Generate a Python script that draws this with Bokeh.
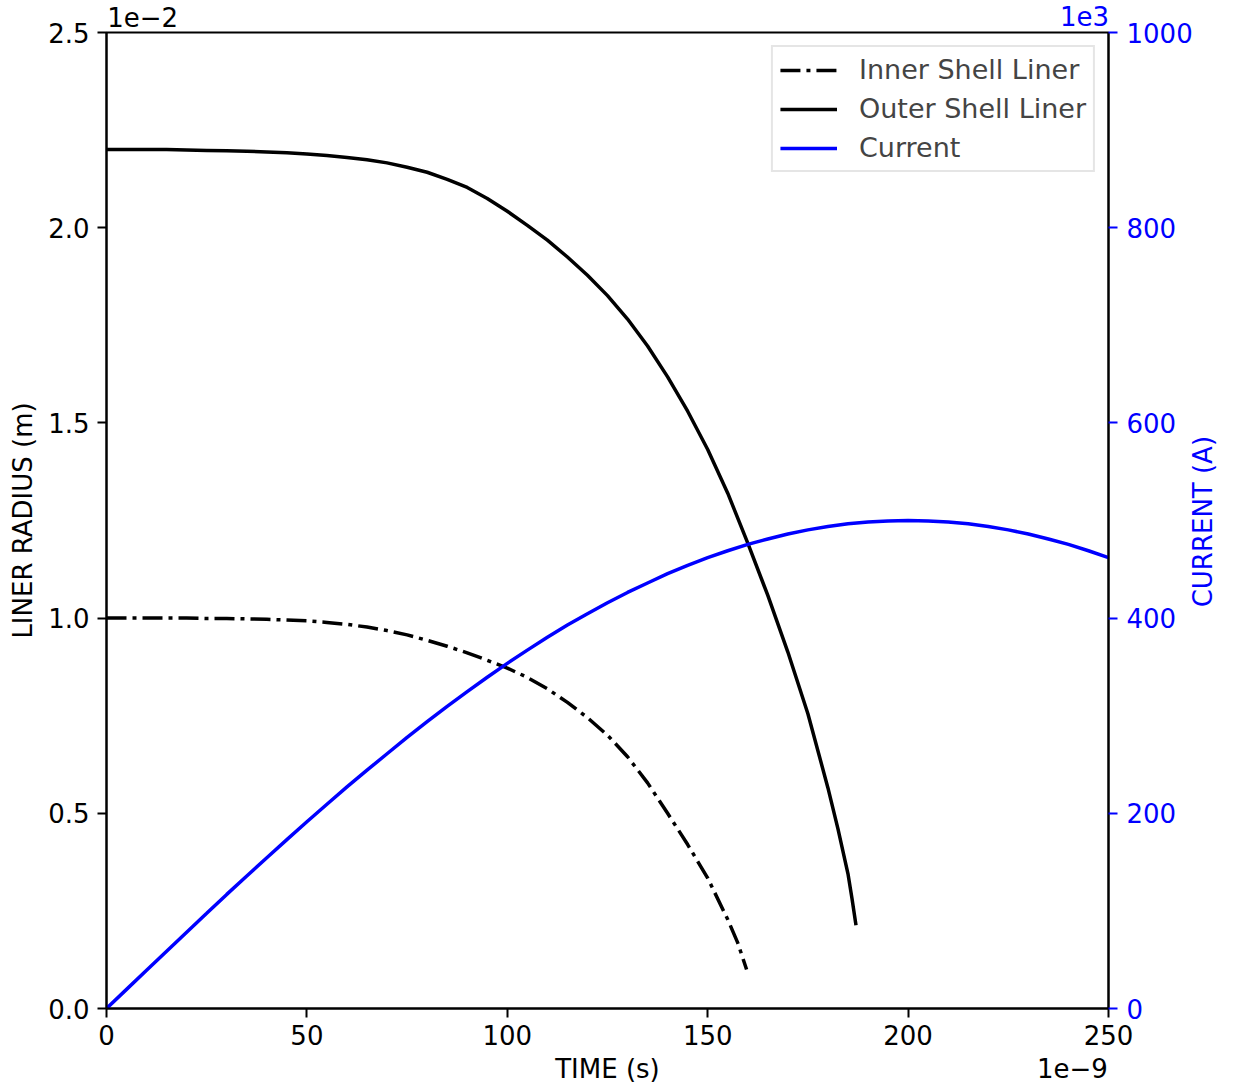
import math

from bokeh.plotting import figure
from bokeh.models import Range1d, LinearAxis, FixedTicker, PrintfTickFormatter
from bokeh.embed import file_html
from bokeh.resources import INLINE

# Liner radius (units of 1e-2 m) versus time (units of 1e-9 s)
time_inner = [0, 5, 10, 15, 20, 25, 30, 35, 40, 45, 50, 55, 60, 65, 70, 75, 80,
              85, 90, 95, 100, 105, 110, 115, 120, 125, 130, 135, 140, 145, 150,
              155, 157.5, 159.7]
radius_inner = [1.000, 1.000, 1.000, 1.000, 1.000, 0.999, 0.999, 0.998, 0.997,
                0.995, 0.993, 0.989, 0.984, 0.977, 0.968, 0.957, 0.943, 0.928,
                0.911, 0.892, 0.872, 0.848, 0.819, 0.784, 0.745, 0.700, 0.645,
                0.578, 0.500, 0.420, 0.334, 0.228, 0.168, 0.100]

time_outer = [0, 5, 10, 15, 20, 25, 30, 35, 40, 45, 50, 55, 60, 65, 70, 75, 80,
              85, 90, 95, 100, 105, 110, 115, 120, 125, 130, 135, 140, 145, 150,
              155, 160, 165, 170, 175, 180, 182.5, 185, 186, 187]
radius_outer = [2.200, 2.200, 2.200, 2.200, 2.199, 2.198, 2.197, 2.196, 2.194,
                2.192, 2.189, 2.185, 2.180, 2.174, 2.166, 2.155, 2.142, 2.124,
                2.103, 2.075, 2.042, 2.006, 1.968, 1.925, 1.878, 1.826, 1.766,
                1.697, 1.618, 1.530, 1.432, 1.320, 1.192, 1.058, 0.913, 0.755,
                0.565, 0.460, 0.345, 0.282, 0.213]

# Drive current (units of 1e3 A)
time_current = [0, 5, 10, 15, 20, 25, 30, 35, 40, 45, 50, 55, 60, 65, 70, 75,
                80, 85, 90, 95, 100, 105, 110, 115, 120, 125, 130, 135, 140, 145,
                150, 155, 160, 165, 170, 175, 180, 185, 190, 195, 200, 205, 210,
                215, 220, 225, 230, 235, 240, 245, 250]
current_ka = [0.0, 19.6, 39.2, 58.7, 78.2, 97.5, 116.9, 135.8, 154.5, 173.0,
              191.3, 209.3, 227.0, 244.2, 261.0, 277.8, 293.9, 309.6, 324.7,
              339.4, 353.6, 367.2, 380.4, 392.9, 404.5, 415.7, 426.3, 436.0,
              445.5, 454.0, 461.9, 469.0, 475.5, 481.1, 486.2, 490.4, 493.8,
              496.6, 498.5, 499.6, 500.0, 499.6, 498.5, 496.6, 493.8, 490.4,
              486.2, 481.1, 475.5, 469.0, 461.9]

x_ticks = [0, 50, 100, 150, 200, 250]
radius_ticks = [0.0, 0.5, 1.0, 1.5, 2.0, 2.5]
current_ticks = [0, 200, 400, 600, 800, 1000]

# Texts set along the axes outside the frame: scale factors and axis titles
radius_scale = {9: "1e\u22122"}
current_scale = {244: "1e3"}
bottom_texts = {125: "TIME (s)", 241: "1e\u22129"}
current_title = {411: "CURRENT (A)"}

FONT = "DejaVu Sans"
FS = "26px"
BLUE = "#0000ff"

p = figure(width=1236, height=1087,
           x_range=Range1d(0, 250), y_range=Range1d(0, 2.5),
           output_backend="svg", toolbar_location=None,
           min_border_left=106, min_border_right=128,
           min_border_top=32, min_border_bottom=79)
p.extra_y_ranges = {"current": Range1d(0, 1000)}
p.title.visible = False

p.xgrid.visible = False
p.ygrid.visible = False
p.outline_line_color = "black"
p.outline_line_width = 2
p.outline_line_alpha = 1.0
p.background_fill_color = "white"
p.border_fill_color = "white"

p.line(time_inner, radius_inner, line_color="black", line_width=3.5,
       line_dash="20 6 4 6", legend_label="Inner Shell Liner")
p.line(time_outer, radius_outer, line_color="black", line_width=3.5,
       legend_label="Outer Shell Liner")
p.line(time_current, current_ka, line_color=BLUE, line_width=3.5,
       y_range_name="current", legend_label="Current")

right = LinearAxis(y_range_name="current")
p.add_layout(right, "right")


def style_axis(ax, color):
    ax.major_label_text_font = FONT
    ax.major_label_text_font_size = FS
    ax.major_label_text_color = color
    ax.axis_label_text_font = FONT
    ax.axis_label_text_font_size = FS
    ax.axis_label_text_font_style = "normal"
    ax.axis_label_text_color = color
    ax.major_tick_out = 9
    ax.major_tick_in = 0
    ax.minor_tick_out = 0
    ax.minor_tick_in = 0
    ax.major_tick_line_width = 2
    ax.major_tick_line_color = color
    ax.axis_line_width = 2
    ax.axis_line_color = "black"


def text_axis(texts, color, standoff, **kw):
    ax = LinearAxis(ticker=FixedTicker(ticks=list(texts)),
                    major_label_overrides=texts, **kw)
    style_axis(ax, color)
    ax.major_tick_out = 0
    ax.major_tick_line_color = None
    ax.axis_line_color = None
    ax.major_label_standoff = standoff
    return ax


xa = p.xaxis[0]
ya = p.yaxis[0]
style_axis(xa, "black")
style_axis(ya, "black")
style_axis(right, BLUE)

xa.ticker = FixedTicker(ticks=x_ticks)
xa.major_label_standoff = 7

ya.ticker = FixedTicker(ticks=radius_ticks)
ya.formatter = PrintfTickFormatter(format="%.1f")
ya.axis_label = "LINER RADIUS (m)"
ya.major_label_standoff = 8
ya.axis_label_standoff = 7

right.ticker = FixedTicker(ticks=current_ticks)
right.major_label_standoff = 9

# Rotated title of the current axis, reading upwards
p.add_layout(text_axis(current_title, BLUE, 8, y_range_name="current",
                       major_label_orientation=math.pi / 2), "right")
# Row under the tick labels: time axis title and time scale factor
p.add_layout(text_axis(bottom_texts, "black", 6), "below")
# Row above the frame: radius (black) and current (blue) scale factors
p.add_layout(text_axis(radius_scale, "black", 6), "above")
p.add_layout(text_axis(current_scale, BLUE, -22), "above")

lg = p.legend[0]
lg.location = "top_right"
lg.margin = 13
lg.padding = 7
lg.spacing = 8
lg.label_standoff = 22
lg.glyph_width = 57
lg.glyph_height = 26
lg.label_height = 26
lg.label_text_font = FONT
lg.label_text_font_size = "27px"
lg.border_line_color = "#cccccc"
lg.border_line_width = 2
lg.background_fill_alpha = 0.8

open("out.html", "w").write(file_html(p, INLINE))
